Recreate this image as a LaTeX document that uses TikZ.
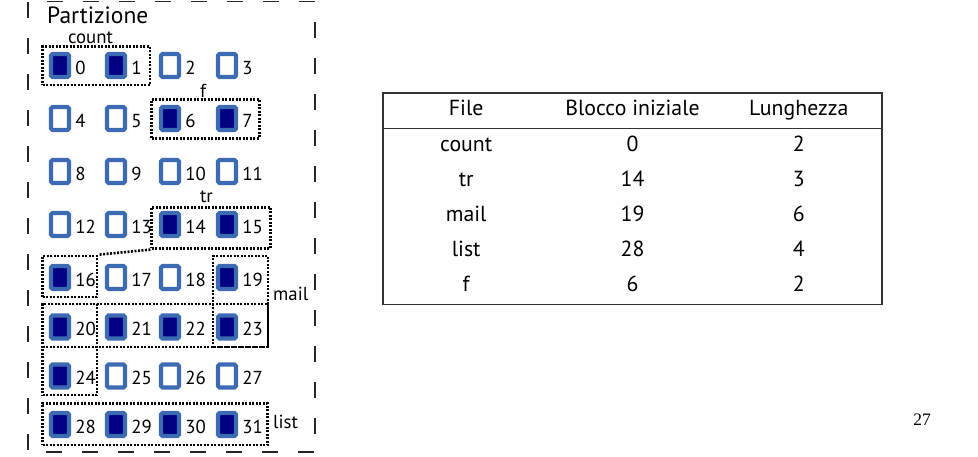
\documentclass[tikz,border=0pt]{standalone}
\usepackage{fontspec}
\setmainfont{PT Sans}
\newfontfamily\pgfont{Liberation Serif}
\usetikzlibrary{positioning,fit,calc,matrix}
\definecolor{cBord}{HTML}{3C6BB4}
\definecolor{cUsed}{HTML}{000080}
\tikzset{
  free/.style ={draw=cBord,line width=4.2pt,fill=white,rounded corners=1.5pt,
                minimum width=18pt,minimum height=23pt,inner sep=0pt},
  used/.style ={free,fill=cUsed},
  num/.style  ={font=\fontsize{18.8}{21}\selectfont,inner sep=0pt,anchor=base west},
  lbl/.style  ={font=\fontsize{18.8}{21}\selectfont,inner sep=0pt},
  grp/.style  ={draw=black,line width=2.6pt,dash pattern=on 2pt off 1.5pt,inner sep=0pt},
  part/.style ={draw=black!85,line width=1.4pt,dash pattern=on 16pt off 20pt},
  cell/.style ={minimum width=166.3pt,minimum height=35.2pt,inner sep=0pt,
                text height=10.8pt,text depth=0pt,font=\fontsize{21.8}{25}\selectfont},
}

\begin{document}
\begin{tikzpicture}[x=1pt,y=-1pt]
\useasboundingbox (0,0) rectangle (978,456);
\def\colx{{60,116,170,227}}
\def\rowy{{65.5,118.5,171.5,224.5,277.5,327,376,424.5}}

% the partition
\draw[part] (28,1.5) rectangle (315,452);
\node[font=\fontsize{23.5}{26}\selectfont,inner sep=0pt,anchor=base west] (ptitle)
  at (47,23.5) {Partizione};

% free blocks
\foreach \n in {2,3,4,5,8,9,10,11,12,13,17,18,25,26,27} {
  \pgfmathsetmacro\bx{\colx[mod(\n,4)]}
  \pgfmathsetmacro\by{\rowy[int(\n/4)]}
  \node[free] (blk\n) at (\bx,\by) {};
  \node[num] (num\n) at ($(blk\n.east)+(4,8.5)$) {\n};
}
% allocated blocks
\foreach \n in {0,1,6,7,14,15,16,19,20,21,22,23,24,28,29,30,31} {
  \pgfmathsetmacro\bx{\colx[mod(\n,4)]}
  \pgfmathsetmacro\by{\rowy[int(\n/4)]}
  \node[used] (blk\n) at (\bx,\by) {};
  \node[num] (num\n) at ($(blk\n.east)+(4,8.5)$) {\n};
}

% files, contiguous allocation
\node[grp,fit={(42.7,46.7) (150,85)}] (fcount) {};
\node[lbl,anchor=base] at (90.5,43) {count};

\node[grp,fit={(151.7,99.3) (259.3,138.3)}] (ff) {};
\node[lbl,anchor=base] at (203,97) {f};

\node[grp,fit={(151.7,207.3) (270.7,248.3)}] (ftr) {};
\node[lbl,anchor=base] at (206.5,202) {tr};
\node[grp,fit={(42.7,256) (97,297)}] (ftr16) {};
\draw[grp] (ftr.south west) -- (ftr16.north east);

\node[grp,fit={(213,256) (268,347)}] (fmail) {};
\node[grp,fit={(42.7,304) (268,347)}] (fmailrow) {};
\node[grp,fit={(42.7,304) (97,395)}] (fmail24) {};
\node[lbl,anchor=base west] at (273,300) {mail};

\node[grp,fit={(42.7,403.3) (267.7,445)}] (flist) {};
\node[lbl,anchor=base west] at (273,428) {list};

% allocation table
\matrix (tab) [matrix of nodes,draw=black!80,line width=1.2pt,inner sep=0pt,
               nodes={cell}] at (632.5,198.5) {
  File  & Blocco iniziale & Lunghezza \\
  count & 0  & 2 \\
  tr    & 14 & 3 \\
  mail  & 19 & 6 \\
  list  & 28 & 4 \\
  f     & 6  & 2 \\
};
\draw[draw=black!80,line width=1.2pt] (tab-1-1.south west) -- (tab-1-3.south east);

\node[font=\pgfont\fontsize{17.5}{20}\selectfont,inner sep=0pt,anchor=base] (pgno)
  at (922,425) {27};
\end{tikzpicture}
\end{document}
